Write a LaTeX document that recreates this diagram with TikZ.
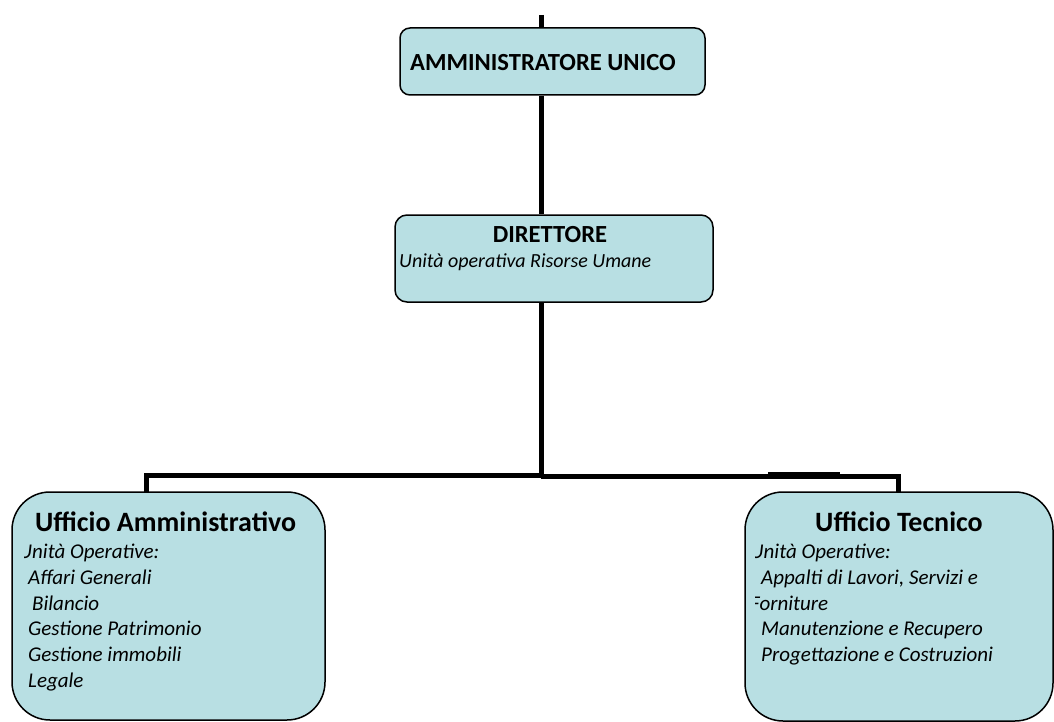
\documentclass[tikz,border=0pt]{standalone}
\usepackage{fontspec}
\setmainfont{Carlito}
\usetikzlibrary{positioning}

\definecolor{boxfill}{RGB}{184,223,227}

\begin{document}
\begin{tikzpicture}[x=1pt, y=-1pt,
  box/.style={draw, fill=boxfill, line width=1.5pt, inner sep=0pt},
  conn/.style={line width=5pt},
  head/.style={inner sep=0pt, font=\bfseries\fontsize{24.6}{29}\selectfont},
  title/.style={inner sep=0pt, font=\bfseries\fontsize{28}{33}\selectfont},
  item/.style={inner sep=0pt, anchor=base west, font=\itshape\fontsize{21}{25}\selectfont},
]
\useasboundingbox (0,0) rectangle (1054,722);

% boxes
\node[box, rounded corners=10pt, minimum width=305pt, minimum height=67pt] (amm) at (552.5, 61.5) {};
\node[box, rounded corners=12pt, minimum width=318pt, minimum height=87pt] (dir) at (554, 258.5) {};
\node[box, rounded corners=38pt, minimum width=313pt, minimum height=228pt] (uamm) at (168.5, 606) {};
\node[box, rounded corners=38pt, minimum width=308pt, minimum height=229pt] (utec) at (899, 606.5) {};

% connectors
\coordinate (top) at (541, 15);
\coordinate (jl) at (541, 475);
\coordinate (jr) at (541, 476);
\coordinate (lfoot) at (146, 492);
\coordinate (rfoot) at (898.5, 492);
\draw[conn] (top) -- (top |- amm.north);
\draw[conn] (top |- amm.south) -- (top |- dir.north);
\draw[conn] (top |- dir.south) -- (jl) -| (lfoot);
\draw[conn] (jr) -| (rfoot);
\draw[line width=2pt] (768, 472.5) -- (840, 472.5);

% texts
\node[head, anchor=west] (amm-t) at (410, 62.5) {AMMINISTRATORE UNICO};
\node[head] (dir-t) at (550, 235) {DIRETTORE};
\node[item, font=\itshape\fontsize{20}{24}\selectfont] (dir-u) at (399, 267) {Unità operativa Risorse Umane};

\node[title, anchor=base west] (uamm-t) at (35, 531) {Ufficio Amministrativo};
\begin{scope}
  \clip (24, 492) rectangle (325, 720);
  \node[item] (ua-0) at (18.5, 558.5) {Unità Operative:};
\end{scope}
\node[item] (ua-1) at (28, 584.3) {Affari Generali};
\node[item] (ua-2) at (32, 610) {Bilancio};
\node[item] (ua-3) at (28, 635.8) {Gestione Patrimonio};
\node[item] (ua-4) at (28, 661.6) {Gestione immobili};
\node[item] (ua-5) at (28, 687.4) {Legale};

\node[title, anchor=base] (utec-t) at (899, 531) {Ufficio Tecnico};
\begin{scope}
  \clip (755.5, 492) rectangle (1054, 722);
  \node[item] (ut-0) at (750, 558.5) {Unità Operative:};
  \node[item] (ut-2) at (750, 610) {Forniture};
\end{scope}
\node[item] (ut-1) at (761, 584.3) {Appalti di Lavori, Servizi e};
\node[item] (ut-3) at (761, 635.8) {Manutenzione e Recupero};
\node[item] (ut-4) at (761, 661.6) {Progettazione e Costruzioni};
\end{tikzpicture}
\end{document}
